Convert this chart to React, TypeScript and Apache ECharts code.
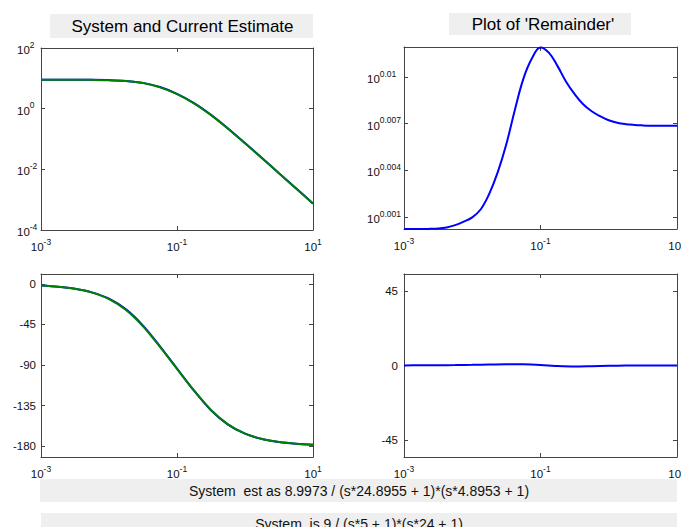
import React, { useEffect, useRef } from "react";
import * as echarts from "echarts";

// log10 of frequency (rad/s)
const logFreq = [-3, -2.75, -2.5, -2.25, -2, -1.75, -1.5, -1.25, -1, -0.75, -0.5, -0.25, 0, 0.25, 0.5, 0.75, 1];
// log10 of magnitude
const systemMagExp = [0.9542, 0.9538, 0.9529, 0.95, 0.9413, 0.9161, 0.85, 0.7125, 0.4907, 0.186, -0.202, -0.652, -1.134, -1.628, -2.126, -2.625, -3.125];
const estimateMagExp = [0.9541, 0.9537, 0.9526, 0.9494, 0.94, 0.9126, 0.8433, 0.7023, 0.4791, 0.1742, -0.2136, -0.6628, -1.1425, -1.6355, -2.1332, -2.6322, -3.1318];
// phase in degrees
const systemPhase = [-1.66, -2.95, -5.25, -9.3, -16.36, -28.19, -46.19, -69.17, -93.95, -118.44, -140.18, -156.17, -166.3, -172.24, -175.63, -177.54, -178.61];
const estimatePhase = [-1.71, -3.03, -5.39, -9.55, -16.78, -28.85, -47.02, -69.85, -94.2, -118.31, -139.9, -155.95, -166.15, -172.16, -175.57, -177.51, -178.6];
const remainderPhase = [0.05, 0.1, 0.15, 0.25, 0.4, 0.6, 0.8, 0.7, 0.3, -0.3, -0.6, -0.4, -0.15, -0.05, 0, 0, 0];

const logFreqFine = [-3, -2.875, -2.75, -2.625, -2.5, -2.375, -2.25, -2.125, -2, -1.875, -1.75, -1.625, -1.5, -1.375, -1.25, -1.125, -1, -0.875, -0.75, -0.625, -0.5, -0.375, -0.25, -0.125, 0, 0.125, 0.25, 0.375, 0.5, 0.625, 0.75, 0.875, 1];
const remainderMagExp = [0.00023, 0.00023, 0.00023, 0.00024, 0.00026, 0.00033, 0.00048, 0.0007, 0.00098, 0.0015, 0.0025, 0.0039, 0.0057, 0.0079, 0.0099, 0.0112, 0.0119, 0.01155, 0.0107, 0.0097, 0.0089, 0.00825, 0.0078, 0.00748, 0.00722, 0.00706, 0.00697, 0.00692, 0.00689, 0.00687, 0.00686, 0.00686, 0.00686];

const freqTicks = [-3, -1, 1];
const magTicks = [-4, -2, 0, 2];
const remTicks = [0.001, 0.004, 0.007, 0.01];
const phaseTicks = [-180, -135, -90, -45, 0];
const remPhaseTicks = [-45, 0, 45];

const titleLeft = "System and Current Estimate";
const titleRight = "Plot of 'Remainder'";
const estText = "System  est as 8.9973 / (s*24.8955 + 1)*(s*4.8953 + 1)";
const sysText = "System  is 9 / (s*5 + 1)*(s*24 + 1)";

const FONT = "'Liberation Sans', Arial, sans-serif";
const BOX = "#444444";
const LABEL = "#111111";
const BLUE = "#0000ff";
const GREEN = "#008000";

const pow = (v: number) => `{b|10}{s|${+v.toFixed(4)}}`;
const rich = {
  b: { fontSize: 11.5, fontFamily: FONT, color: LABEL, lineHeight: 16, verticalAlign: "bottom" },
  s: { fontSize: 8.5, fontFamily: FONT, color: LABEL, lineHeight: 8, verticalAlign: "top" },
};

function xAxes(grid: number) {
  const common = {
    type: "value",
    gridIndex: grid,
    min: -3,
    max: 1,
    splitLine: { show: false },
    axisLine: { show: true, onZero: false, lineStyle: { color: BOX, width: 1 } },
    axisTick: { show: true, inside: true, length: 4, customValues: freqTicks, lineStyle: { color: BOX } },
  };
  return [
    { ...common, position: "bottom", axisLabel: { show: true, customValues: freqTicks, formatter: pow, rich, margin: 7 } },
    { ...common, position: "top", axisLabel: { show: false } },
  ];
}

function yAxes(grid: number, min: number, max: number, ticks: number[], label: any) {
  const common = {
    type: "value",
    gridIndex: grid,
    min,
    max,
    splitLine: { show: false },
    axisLine: { show: true, onZero: false, lineStyle: { color: BOX, width: 1 } },
    axisTick: { show: true, inside: true, length: 4, customValues: ticks, lineStyle: { color: BOX } },
  };
  return [
    { ...common, position: "left", axisLabel: { show: true, customValues: ticks, fontSize: 11.5, fontFamily: FONT, color: LABEL, ...label } },
    { ...common, position: "right", axisLabel: { show: false } },
  ];
}

function line(xi: number, xs: number[], ys: number[], color: string, smooth: number) {
  return {
    type: "line",
    xAxisIndex: xi,
    yAxisIndex: xi,
    data: xs.map((x, i) => [x, ys[i]]),
    symbol: "none",
    showSymbol: false,
    smooth,
    clip: false,
    lineStyle: { color, width: 2 },
  };
}

const option = {
  animation: false,
  backgroundColor: "#ffffff",
  grid: [
    { left: 41, top: 48, width: 272, height: 182, outerBoundsMode: "none", containLabel: false },
    { left: 404, top: 47, width: 273, height: 182, outerBoundsMode: "none", containLabel: false },
    { left: 41, top: 274, width: 272, height: 183, outerBoundsMode: "none", containLabel: false },
    { left: 404, top: 274, width: 273, height: 183, outerBoundsMode: "none", containLabel: false },
  ],
  xAxis: [...xAxes(0), ...xAxes(1), ...xAxes(2), ...xAxes(3)],
  yAxis: [
    ...yAxes(0, -4, 2, magTicks, { formatter: pow, rich, align: "left", margin: 24 }),
    ...yAxes(1, 0.00023, 0.01193, remTicks, { formatter: pow, rich, align: "left", margin: 37 }),
    ...yAxes(2, -192.2, 11.1, phaseTicks, { margin: 5 }),
    ...yAxes(3, -55.4, 55.4, remPhaseTicks, { margin: 6 }),
  ],
  series: [
    line(0, logFreq, systemMagExp, BLUE, 0.3),
    line(0, logFreq, estimateMagExp, GREEN, 0.3),
    line(2, logFreqFine, remainderMagExp, BLUE, 0.4),
    line(4, logFreq, systemPhase, BLUE, 0.3),
    line(4, logFreq, estimatePhase, GREEN, 0.3),
    line(6, logFreq, remainderPhase, BLUE, 0.3),
  ],
  graphic: [
    { type: "rect", silent: true, shape: { x: 50, y: 14, width: 263, height: 24 }, style: { fill: "#efefef" } },
    { type: "text", silent: true, x: 182.5, y: 26, style: { text: titleLeft, fontSize: 17, fontFamily: FONT, fill: "#000", align: "center", verticalAlign: "middle" } },
    { type: "rect", silent: true, shape: { x: 449, y: 13, width: 182, height: 22 }, style: { fill: "#efefef" } },
    { type: "text", silent: true, x: 543, y: 24, style: { text: titleRight, fontSize: 17, fontFamily: FONT, fill: "#000", align: "center", verticalAlign: "middle" } },
    { type: "rect", silent: true, shape: { x: 40, y: 479, width: 637, height: 23 }, style: { fill: "#efefef" } },
    { type: "text", silent: true, x: 359, y: 491, style: { text: estText, fontSize: 14, fontFamily: FONT, fill: "#111", align: "center", verticalAlign: "middle" } },
    { type: "rect", silent: true, shape: { x: 41, y: 513, width: 636, height: 22 }, style: { fill: "#efefef" } },
    { type: "text", silent: true, x: 359, y: 524, style: { text: sysText, fontSize: 14, fontFamily: FONT, fill: "#111", align: "center", verticalAlign: "middle" } },
  ],
};

export default function App() {
  const ref = useRef<HTMLDivElement>(null);
  useEffect(() => {
    const chart = echarts.init(ref.current as HTMLDivElement, null, { renderer: "svg" });
    chart.setOption(option as any);
    return () => chart.dispose();
  }, []);
  return (
    <div
      ref={ref}
      style={{ position: "fixed", left: 0, top: 0, width: 681, height: 527, background: "#fff" }}
    />
  );
}
